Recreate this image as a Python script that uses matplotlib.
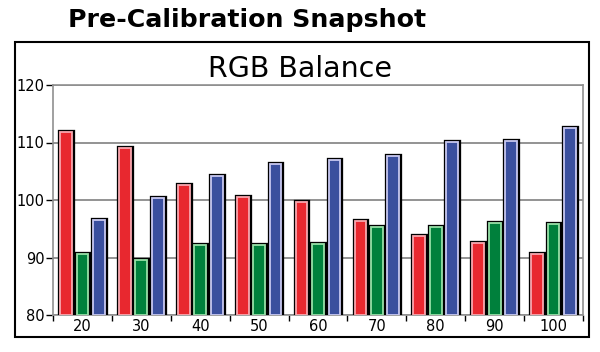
import matplotlib
matplotlib.use("Agg")
import matplotlib.pyplot as plt
import matplotlib.patheffects as pe
from matplotlib.patches import Rectangle
import numpy as np

categories = ["20", "30", "40", "50", "60", "70", "80", "90", "100"]
red = [111.8, 109.1, 102.6, 100.6, 99.6, 96.3, 93.7, 92.6, 90.6]
green = [90.6, 89.6, 92.2, 92.2, 92.4, 95.3, 95.3, 96.0, 95.8]
blue = [96.6, 100.3, 104.2, 106.2, 107.0, 107.7, 110.1, 110.3, 112.6]
yticks = [80, 90, 100, 110, 120]

series = [
    (red, "#e8282f", "#f8a8b0"),
    (green, "#00803c", "#98e0a8"),
    (blue, "#3a4f9e", "#c8c8f0"),
]

fig = plt.figure(figsize=(6, 3.52), dpi=100)
# outer frame
fig.patches.append(Rectangle((15/600, 1-337/352), (589-15)/600, (337-42)/352,
                             transform=fig.transFigure, fill=False,
                             edgecolor="black", linewidth=1.5))
fig.text(68/600, 1-20/352, "Pre-Calibration Snapshot", fontsize=18.2,
         fontweight="bold", ha="left", va="center", family="DejaVu Sans")
fig.text(300/600, 1-69/352, "RGB Balance", fontsize=20.5, ha="center",
         va="center", family="DejaVu Sans")

ax = fig.add_axes([53/600, 1-315/352, (583-53)/600, (315-85)/352])
x = np.arange(len(categories))
bw = 0.2
step = 0.28
offsets = [-step, 0, step]
base = 80
for (vals, fc, hc), off in zip(series, offsets):
    bars = ax.bar(x + off, np.array(vals) - base, bottom=base, width=bw,
                  color=fc, edgecolor=hc, linewidth=1.3, zorder=3)
    for b in bars:
        b.set_path_effects([pe.Stroke(linewidth=3.8, foreground="black"),
                            pe.Normal()])

ax.set_ylim(80, 120)
ax.set_xlim(-0.5, len(categories) - 0.5)
ax.set_yticks(yticks)
ax.set_yticklabels([str(v) for v in yticks], fontsize=10.5)
ax.set_xticks(x)
ax.set_xticklabels(categories, fontsize=10.5)
ax.set_xticks(np.arange(len(categories) + 1) - 0.5, minor=True)
ax.tick_params(axis="x", which="major", length=0, pad=3)
ax.tick_params(axis="x", which="minor", length=4, width=1, color="black")
ax.tick_params(axis="y", length=5, width=1, color="black", pad=1)
ax.yaxis.grid(True, color="#808080", linewidth=1.2, zorder=0)
for s in ax.spines.values():
    s.set_color("#909090")
    s.set_linewidth(1.2)

fig.savefig("out.png", dpi=100)
